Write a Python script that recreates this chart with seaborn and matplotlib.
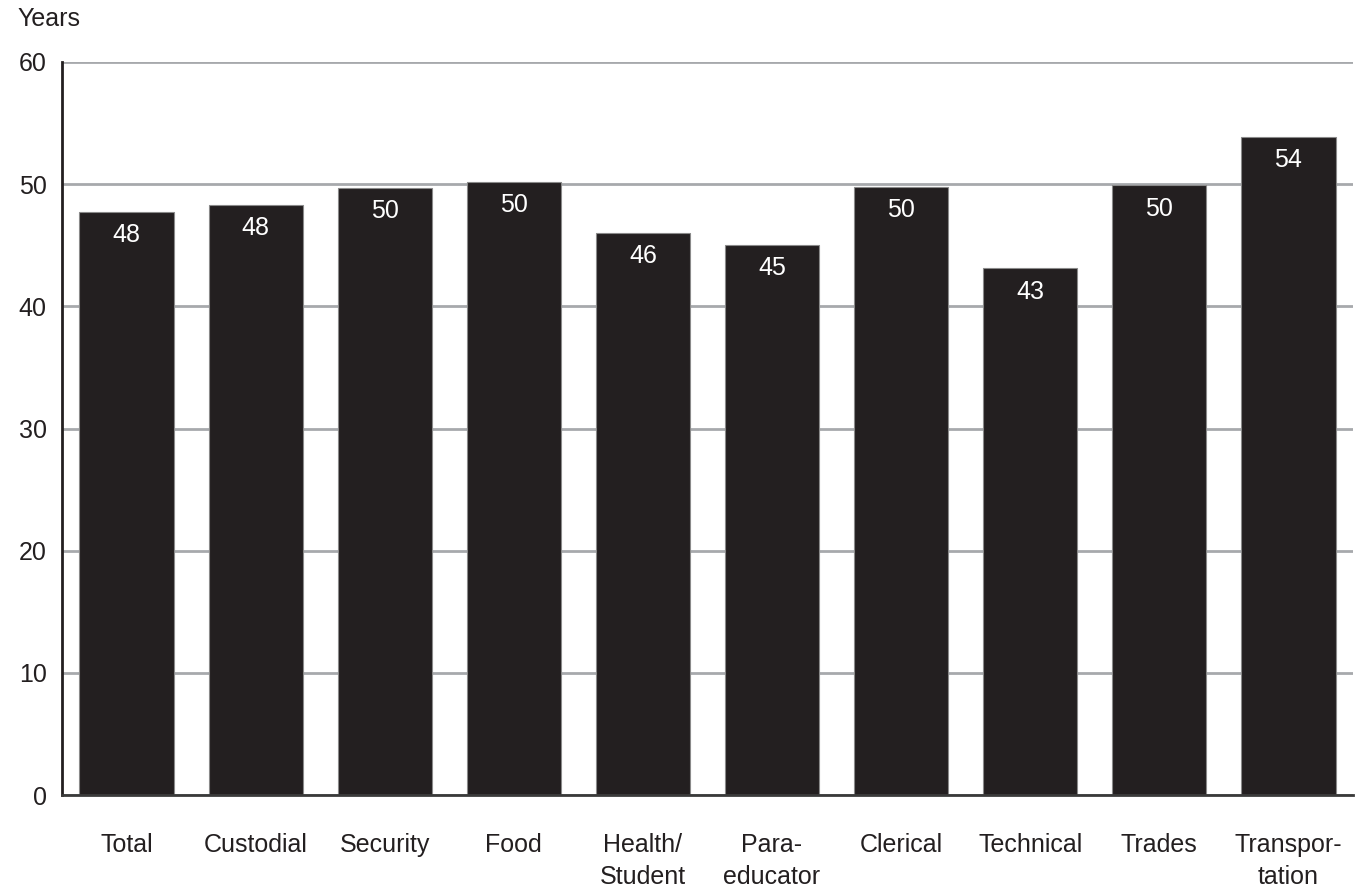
import pandas as pd
import matplotlib
matplotlib.use('Agg')
import matplotlib.pyplot as plt
import seaborn as sns

categories = ['Total', 'Custodial', 'Security', 'Food', 'Health/\nStudent',
              'Para-\neducator', 'Clerical', 'Technical', 'Trades', 'Transpor-\ntation']
values = [47.7, 48.3, 49.7, 50.2, 46.0, 45.0, 49.8, 43.1, 49.9, 53.9]
labels = ['48', '48', '50', '50', '46', '45', '50', '43', '50', '54']

sns.set_theme(style='white')
plt.rcParams['font.family'] = ['Liberation Sans', 'DejaVu Sans']

df = pd.DataFrame({'cat': categories, 'val': values})

fig = plt.figure(figsize=(13.59, 8.88), dpi=100)
ax = fig.add_axes([0.0456, 0.1047, 0.9500, 0.8255])

sns.barplot(data=df, x='cat', y='val', color='#231f20', saturation=1,
            width=0.73, edgecolor='#8a8a8a', linewidth=0.8, ax=ax)

ax.set_ylim(0, 60)
ax.set_xlim(-0.5, 9.5)
ax.set_yticks(range(0, 61, 10))
ax.yaxis.grid(True, color='#a7a9ac', linewidth=2)
ax.set_axisbelow(True)

for i, (v, lab) in enumerate(zip(values, labels)):
    ax.text(i, v - 1.9, lab, ha='center', va='center', color='white', fontsize=18)

ax.set_xlabel('')
ax.set_ylabel('')
ax.tick_params(axis='x', length=0, pad=27.5, labelsize=18, colors='#231f20')
ax.tick_params(axis='y', length=0, pad=11, labelsize=18, colors='#231f20')
for t in ax.get_xticklabels():
    t.set_linespacing(1.42)

for s in ['top', 'right']:
    ax.spines[s].set_visible(False)
ax.spines['left'].set_color('#231f20')
ax.spines['left'].set_linewidth(2)
ax.spines['bottom'].set_color('#3a3a3a')
ax.spines['bottom'].set_linewidth(2)

fig.text(0.013, 0.992, 'Years', ha='left', va='top', fontsize=18, color='#231f20')

fig.savefig('out.png', dpi=100)
